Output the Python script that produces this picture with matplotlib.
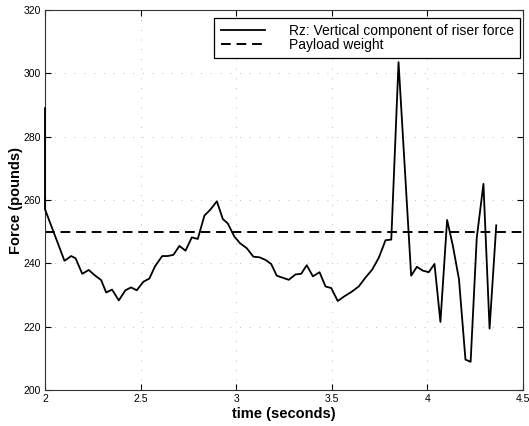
import matplotlib
matplotlib.use("Agg")
import matplotlib.pyplot as plt

plt.rcParams['font.family'] = ['Liberation Sans', 'DejaVu Sans']

# riser force samples (time in s, force in lb)
time_s = [2.000, 2.000, 2.102, 2.137, 2.160, 2.195, 2.229, 2.259, 2.294, 2.320,
          2.351, 2.386, 2.421, 2.450, 2.480, 2.515, 2.546, 2.576, 2.613, 2.642,
          2.672, 2.703, 2.735, 2.768, 2.799, 2.834, 2.864, 2.899, 2.930, 2.956,
          2.991, 3.021, 3.055, 3.090, 3.122, 3.153, 3.183, 3.212, 3.275, 3.310,
          3.340, 3.369, 3.401, 3.436, 3.467, 3.497, 3.531, 3.566, 3.601, 3.641,
          3.676, 3.711, 3.746, 3.781, 3.811, 3.849, 3.915, 3.945, 3.976, 4.007,
          4.037, 4.068, 4.103, 4.133, 4.165, 4.199, 4.226, 4.258, 4.293, 4.325,
          4.360]
rz_force = [289.0, 257.1, 240.8, 242.3, 241.6, 236.7, 237.9, 236.3, 234.7, 230.8,
            231.7, 228.3, 231.5, 232.4, 231.5, 234.2, 235.2, 239.1, 242.3, 242.3,
            242.7, 245.5, 244.0, 248.2, 247.7, 255.1, 256.9, 259.6, 254.0, 252.6,
            248.4, 246.3, 244.8, 242.1, 241.9, 241.1, 239.8, 236.1, 234.8, 236.5,
            236.7, 239.4, 235.9, 237.2, 232.7, 232.2, 228.1, 229.6, 230.9, 232.7,
            235.5, 238.0, 241.8, 247.3, 247.5, 303.5, 236.1, 238.9, 237.7, 237.2,
            239.8, 221.5, 253.7, 245.6, 235.0, 209.6, 208.9, 248.0, 265.1, 219.4,
            252.0]
payload_weight = 250

fig = plt.figure(figsize=(5.29, 4.26), dpi=100)
ax = fig.add_axes([0.085, 0.0845, 0.9037, 0.892])

# all samples sit inside the limits, so no clipping needed (shows the jump at t=2)
ax.plot(time_s, rz_force, color='black', lw=1.3, zorder=3, clip_on=False,
        label='Rz: Vertical component of riser force')
ax.axhline(payload_weight, color='black', lw=1.4, ls=(0, (5, 3)),
           label='Payload weight')

ax.set_xlim(2, 4.5)
ax.set_ylim(200, 320)
ax.set_xticks([2, 2.5, 3, 3.5, 4, 4.5])
ax.set_xticklabels(['2', '2.5', '3', '3.5', '4', '4.5'])
ax.set_yticks(range(200, 321, 20))

# the scanned grid is faint and broken up
ax.grid(True, color='#bbbbbb', lw=0.7, ls=(0, (1, 9)))
ax.tick_params(direction='in', length=4, width=0.8, labelsize=7.5,
               top=True, right=True, pad=3)
for s in ax.spines.values():
    s.set_linewidth(0.8)
    s.set_color('#333333')

ax.set_xlabel('time (seconds)', fontsize=10.5, fontweight='bold', labelpad=2)
ax.set_ylabel('Force (pounds)', fontsize=10.5, fontweight='bold', labelpad=0)

leg = ax.legend(loc='upper right', bbox_to_anchor=(0.9937, 0.979),
                fontsize=10, frameon=True, fancybox=False, borderaxespad=0,
                handlelength=3.2, handletextpad=1.7, labelspacing=0.0,
                borderpad=0.45)
leg.get_frame().set_edgecolor('black')
leg.get_frame().set_linewidth(0.9)
leg.get_frame().set_alpha(1)

fig.savefig('out.png', dpi=100)
